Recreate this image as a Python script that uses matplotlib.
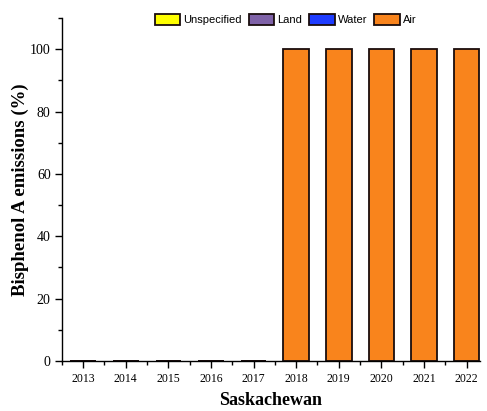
import matplotlib
matplotlib.use("Agg")
import matplotlib.pyplot as plt
import numpy as np
from matplotlib.ticker import MultipleLocator

# Emission shares by medium (%), Saskatchewan
years = ["2013", "2014", "2015", "2016", "2017", "2018", "2019", "2020", "2021", "2022"]
unspecified = [0, 0, 0, 0, 0, 0, 0, 0, 0, 0]
land = [0, 0, 0, 0, 0, 0, 0, 0, 0, 0]
water = [0, 0, 0, 0, 0, 0, 0, 0, 0, 0]
air = [0, 0, 0, 0, 0, 100, 100, 100, 100, 100]

series = [
    ("Unspecified", unspecified, "#FFFF00"),
    ("Land", land, "#7F62A8"),
    ("Water", water, "#1E3CFF"),
    ("Air", air, "#F9841C"),
]

plt.rcParams["font.family"] = ["Liberation Serif", "DejaVu Serif"]

fig = plt.figure(figsize=(4.87, 4.11), dpi=100)
ax = fig.add_axes([0.127, 0.122, 0.859, 0.834])

x = np.arange(len(years))
bottom = np.zeros(len(years))
handles = []
for name, vals, color in series:
    vals = np.array(vals, dtype=float)
    h = ax.bar(x, vals, width=0.6, bottom=bottom, color=color,
               edgecolor="#1a0d0d", linewidth=1.3, label=name)
    handles.append(h)
    bottom += vals

ax.set_xlim(-0.5, 9.32)
ax.set_ylim(0, 110)
ax.set_xticks(x)
ax.set_xticklabels(years)
ax.xaxis.set_minor_locator(MultipleLocator(0.5))
ax.yaxis.set_major_locator(MultipleLocator(20))
ax.yaxis.set_minor_locator(MultipleLocator(10))

for side in ("top", "right"):
    ax.spines[side].set_visible(False)
for side in ("left", "bottom"):
    ax.spines[side].set_linewidth(1.0)

ax.tick_params(axis="both", which="major", direction="out", length=5, width=1.0)
ax.tick_params(axis="both", which="minor", direction="out", length=3, width=1.0)
ax.tick_params(axis="x", which="major", labelsize=8.5, pad=4)
ax.tick_params(axis="y", which="major", labelsize=10, pad=3)

ax.set_xlabel("Saskachewan", fontsize=13, fontweight="bold", labelpad=5)
ax.set_ylabel("Bisphenol A emissions (%)", fontsize=13.5, fontweight="bold", labelpad=1)

leg = ax.legend(handles=handles, labels=[s[0] for s in series], ncol=4,
                loc="upper center", bbox_to_anchor=(0.535, 1.04), frameon=False,
                prop={"family": "Liberation Sans", "size": 8},
                handlelength=2.3, handleheight=1.1, handletextpad=0.3,
                columnspacing=0.6)

fig.savefig("out.png", dpi=100)
